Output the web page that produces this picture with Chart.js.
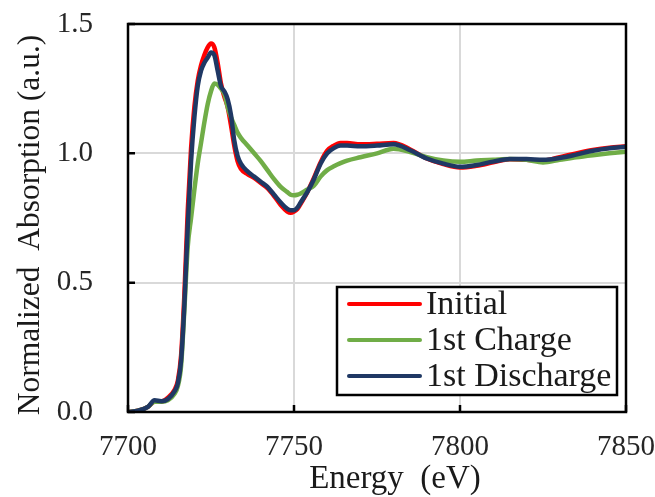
<!DOCTYPE html>
<html>
<head>
<meta charset="utf-8">
<script src="https://cdn.jsdelivr.net/npm/chart.js@4"></script>
<style>
  body { margin: 0; background: #fff; }
</style>
</head>
<body>
<canvas id="myChart" width="655" height="497"></canvas>
<script>
const energy = [7700, 7703, 7706, 7708, 7710, 7712, 7714, 7715, 7716, 7717, 7718, 7719, 7720, 7721, 7722, 7723, 7724, 7725, 7726, 7727, 7728, 7729, 7730, 7731, 7732, 7733, 7734, 7736, 7738, 7740, 7742, 7744, 7746, 7748, 7749, 7750, 7751, 7752, 7754, 7756, 7758, 7760, 7762, 7764, 7766, 7770, 7775, 7780, 7785, 7790, 7795, 7800, 7805, 7810, 7815, 7820, 7825, 7830, 7835, 7840, 7845, 7850];

const initial = [0.0, 0.005, 0.02, 0.04, 0.04, 0.055, 0.085, 0.12, 0.22, 0.46, 0.78, 1.02, 1.18, 1.28, 1.34, 1.38, 1.41, 1.425, 1.41, 1.35, 1.27, 1.22, 1.18, 1.11, 1.03, 0.97, 0.94, 0.92, 0.905, 0.885, 0.865, 0.835, 0.80, 0.775, 0.77, 0.775, 0.785, 0.805, 0.85, 0.905, 0.965, 1.01, 1.03, 1.04, 1.04, 1.035, 1.037, 1.04, 1.015, 0.98, 0.958, 0.945, 0.952, 0.965, 0.977, 0.975, 0.972, 0.985, 1.0, 1.013, 1.022, 1.027];

const charge = [0.0, 0.005, 0.02, 0.04, 0.04, 0.045, 0.07, 0.10, 0.18, 0.40, 0.64, 0.75, 0.86, 0.96, 1.04, 1.12, 1.19, 1.24, 1.27, 1.265, 1.25, 1.23, 1.18, 1.14, 1.11, 1.08, 1.06, 1.03, 1.0, 0.97, 0.935, 0.9, 0.87, 0.85, 0.84, 0.838, 0.84, 0.845, 0.86, 0.875, 0.91, 0.935, 0.95, 0.962, 0.972, 0.985, 1.0, 1.018, 1.005, 0.985, 0.972, 0.967, 0.972, 0.975, 0.978, 0.975, 0.965, 0.975, 0.985, 0.993, 1.0, 1.006];

const discharge = [0.0, 0.005, 0.02, 0.045, 0.042, 0.05, 0.08, 0.11, 0.20, 0.42, 0.72, 0.97, 1.14, 1.26, 1.32, 1.35, 1.37, 1.39, 1.38, 1.32, 1.26, 1.24, 1.21, 1.15, 1.05, 0.99, 0.96, 0.93, 0.91, 0.89, 0.87, 0.84, 0.81, 0.785, 0.78, 0.78, 0.79, 0.81, 0.85, 0.90, 0.96, 1.0, 1.02, 1.03, 1.03, 1.027, 1.03, 1.035, 1.012, 0.98, 0.96, 0.948, 0.955, 0.968, 0.978, 0.978, 0.975, 0.982, 0.995, 1.01, 1.02, 1.025];

const xTicks = [7700, 7750, 7800, 7850];
const yTicks = [0.0, 0.5, 1.0, 1.5];

const seriesNames = ["Initial", "1st Charge", "1st Discharge"];
const seriesColors = ["#ff0000", "#70ad47", "#1f3864"];
const xTitle = "Energy  (eV)";
const yTitle = "Normalized  Absorption (a.u.)";

const serif = "'Liberation Serif', 'Times New Roman', serif";

const toPoints = (ys) => ys.map((y, i) => ({ x: energy[i], y: y }));

const ctx = document.getElementById("myChart").getContext("2d");

//box round the plot, inward ticks, axis titles and the legend
const framePlugin = {
  id: "frame",
  afterDraw(chart) {
    const c = chart.ctx;
    const a = chart.chartArea;
    const xs = chart.scales.x, ys = chart.scales.y;
    c.save();
    c.strokeStyle = "#000";
    c.lineWidth = 2.5;
    c.strokeRect(a.left, a.top, a.right - a.left, a.bottom - a.top);
    c.beginPath();
    yTicks.forEach((v) => {
      const py = ys.getPixelForValue(v);
      c.moveTo(a.left, py);
      c.lineTo(a.left + 7, py);
    });
    xTicks.forEach((v) => {
      const px = xs.getPixelForValue(v);
      c.moveTo(px, a.bottom);
      c.lineTo(px, a.bottom - 7);
    });
    c.stroke();

    // axis titles
    c.fillStyle = "#1a1a1a";
    c.textAlign = "center";
    c.textBaseline = "middle";
    c.font = "33px " + serif;
    c.fillText(xTitle, 395, 479);
    c.save();
    c.translate(31, 225);
    c.rotate(-Math.PI / 2);
    c.font = "31.5px " + serif;
    c.fillText(yTitle, 0, 0);
    c.restore();

    // legend
    const bx = a.right - 289, by = a.bottom - 125, bw = 280, bh = 108;
    c.fillStyle = "#fff";
    c.fillRect(bx, by, bw, bh);
    c.lineWidth = 2.5;
    c.strokeRect(bx, by, bw, bh);
    c.font = "34px " + serif;
    c.textAlign = "left";
    c.lineCap = "round";
    seriesNames.forEach((name, i) => {
      const ly = by + 17 + i * 36;
      c.strokeStyle = seriesColors[i];
      c.lineWidth = 4;
      c.beginPath();
      c.moveTo(bx + 12, ly);
      c.lineTo(bx + 83, ly);
      c.stroke();
      c.fillStyle = "#1a1a1a";
      c.fillText(name, bx + 89, ly + 1);
    });
    c.restore();
  },
};

const data = {
  datasets: [
    { label: seriesNames[0], data: toPoints(initial), borderColor: seriesColors[0], order: 3 },
    { label: seriesNames[1], data: toPoints(charge), borderColor: seriesColors[1], order: 2 },
    { label: seriesNames[2], data: toPoints(discharge), borderColor: seriesColors[2], order: 1 },
  ],
};

const config = {
  type: "line",
  data: data,
  options: {
    responsive: false,
    animation: false,
    datasets: {
      line: {
        borderWidth: 4.5,
        pointRadius: 0,
        fill: false,
        cubicInterpolationMode: "monotone",
      },
    },
    layout: { padding: { top: 24, right: 29, left: 0, bottom: 0 } },
    plugins: {
      legend: { display: false },
      tooltip: { enabled: false },
    },
    scales: {
      x: {
        type: "linear",
        min: 7700,
        max: 7850,
        afterFit: (s) => {
          s.height = 85;
          s.paddingLeft = 0;
          s.paddingRight = 0;
        },
        afterBuildTicks: (s) => { s.ticks = xTicks.map((v) => ({ value: v })); },
        grid: { color: "#d9d9d9", lineWidth: 2, drawTicks: false },
        border: { display: false },
        ticks: {
          padding: 18,
          color: "#262626",
          font: { family: serif, size: 29 },
          callback: (v) => String(v),
          maxRotation: 0,
        },
      },
      y: {
        min: 0,
        max: 1.5,
        afterFit: (s) => {
          s.width = 128;
          s.paddingTop = 0;
          s.paddingBottom = 0;
        },
        afterBuildTicks: (s) => { s.ticks = yTicks.map((v) => ({ value: v })); },
        grid: { color: "#d9d9d9", lineWidth: 2, drawTicks: false },
        border: { display: false },
        ticks: {
          padding: 35,
          color: "#262626",
          font: { family: serif, size: 29 },
          callback: (v) => v.toFixed(1),
        },
      },
    },
  },
  plugins: [framePlugin],
};

const myChart = new Chart(ctx, config);
</script>
</body>
</html>
